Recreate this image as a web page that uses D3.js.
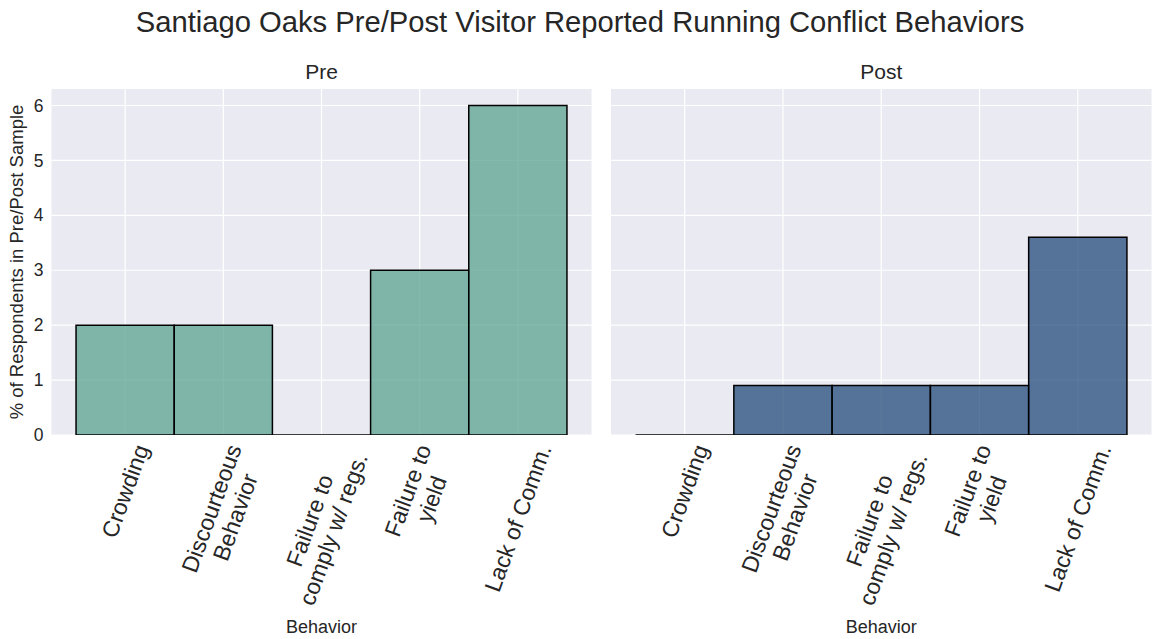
<!DOCTYPE html>
<html>
<head>
<meta charset="utf-8">
<script src="https://cdn.jsdelivr.net/npm/d3@7"></script>
<style>
  body { margin: 0; background: #fff; }
  text { font-family: "Liberation Sans", Arial, sans-serif; fill: #262626; }
</style>
</head>
<body>
<svg id="chart" width="1152" height="639"></svg>
<script>
const categories = ["Crowding", "Discourteous\nBehavior", "Failure to\ncomply w/ regs.", "Failure to\nyield", "Lack of Comm."];
const preValues = [2, 2, 0, 3, 6];
const postValues = [0, 0.9, 0.9, 0.9, 3.6];
const yTicks = [0, 1, 2, 3, 4, 5, 6];

const svg = d3.select("#chart");
const TOP = 89, BOTTOM = 435;

const y = d3.scaleLinear().domain([0, 6.3]).range([BOTTOM, TOP]);

svg.append("text")
  .attr("x", 580).attr("y", 32)
  .attr("text-anchor", "middle")
  .style("font-size", "29.2px")
  .text("Santiago Oaks Pre/Post Visitor Reported Running Conflict Behaviors");

function panel(name, values, left, right, color, showY) {
  const x = d3.scaleLinear().domain([-0.75, categories.length - 0.25]).range([left, right]);
  const g = svg.append("g");

  g.append("rect")
    .attr("x", left).attr("y", TOP)
    .attr("width", right - left).attr("height", BOTTOM - TOP)
    .attr("fill", "#eaeaf2");

  const clipId = "clip-" + name;
  g.append("clipPath").attr("id", clipId)
    .append("rect")
    .attr("x", left).attr("y", TOP)
    .attr("width", right - left).attr("height", BOTTOM - TOP);

  // grid
  g.append("g").selectAll("line")
    .data(yTicks)
    .join("line")
    .attr("x1", left).attr("x2", right)
    .attr("y1", d => y(d)).attr("y2", d => y(d))
    .attr("stroke", "#fff").attr("stroke-width", 1.2);
  g.append("g").selectAll("line")
    .data(categories)
    .join("line")
    .attr("x1", (d, i) => x(i)).attr("x2", (d, i) => x(i))
    .attr("y1", TOP).attr("y2", BOTTOM)
    .attr("stroke", "#fff").attr("stroke-width", 1.2);

  // bars (paths so zero-height bars still show their edge)
  g.append("g").attr("clip-path", `url(#${clipId})`)
    .selectAll("path")
    .data(values)
    .join("path")
    .attr("d", (d, i) => {
      const x0 = x(i - 0.5), x1 = x(i + 0.5), y0 = y(0), y1 = y(d);
      return `M${x0},${y0}L${x0},${y1}L${x1},${y1}L${x1},${y0}Z`;
    })
    .attr("fill", color).attr("fill-opacity", 0.75)
    .attr("stroke", "#000").attr("stroke-width", 1.5);

  if (showY) {
    g.append("g").selectAll("text")
      .data(yTicks)
      .join("text")
      .attr("x", left - 8).attr("y", d => y(d))
      .attr("dy", "0.35em")
      .attr("text-anchor", "end")
      .style("font-size", "17.5px")
      .text(d => d);
  }

  // rotated tick labels, bbox centred on tick like matplotlib
  categories.forEach((c, i) => {
    const outer = g.append("g");
    const inner = outer.append("g").attr("transform", "rotate(-70)");
    const lines = c.split("\n");
    const t = inner.append("text").attr("text-anchor", "middle").style("font-size", "23px");
    lines.forEach((l, k) => {
      t.append("tspan").attr("x", 0).attr("dy", k === 0 ? 0 : "1.1em").text(l);
    });
    const bb = outer.node().getBBox();
    const tx = x(i) - (bb.x + bb.width / 2);
    const ty = BOTTOM + 6 - bb.y;
    outer.attr("transform", `translate(${tx},${ty})`);
  });

  svg.append("text")
    .attr("x", (left + right) / 2).attr("y", 79)
    .attr("text-anchor", "middle")
    .style("font-size", "21px")
    .text(name);

  svg.append("text")
    .attr("x", (left + right) / 2).attr("y", 633)
    .attr("text-anchor", "middle")
    .style("font-size", "18px")
    .text("Behavior");
}

panel("Pre", preValues, 51.5, 591.5, "#5ba38f", true);
panel("Post", postValues, 611, 1151.5, "#234b7a", false);

svg.append("text")
  .attr("transform", `translate(23,${(TOP + BOTTOM) / 2}) rotate(-90)`)
  .attr("text-anchor", "middle")
  .style("font-size", "18.5px")
  .text("% of Respondents in Pre/Post Sample");
</script>
</body>
</html>
